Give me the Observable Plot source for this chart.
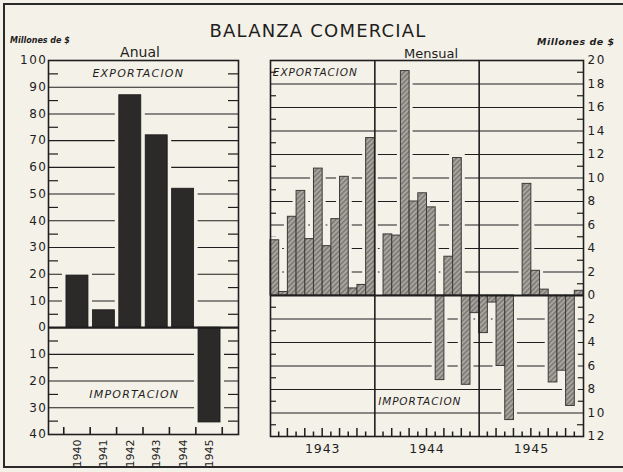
<!DOCTYPE html>
<html><head><meta charset="utf-8">
<script src="https://cdn.jsdelivr.net/npm/d3@7"></script>
<script src="https://cdn.jsdelivr.net/npm/@observablehq/plot@0.6"></script>
<style>
html,body{margin:0;padding:0;background:#f4f1e8;}
#chart{position:relative;width:623px;height:472px;overflow:hidden;font-family:"DejaVu Sans",sans-serif;}
#chart svg{position:absolute;left:0;top:0;}
#border{position:absolute;left:3px;top:3px;width:700px;height:461px;border:2px solid #2a2a2a;}
</style></head><body><div id="chart"><div id="border"></div></div>
<script>
// ---- Data ----
const anualYears = ["1940", "1941", "1942", "1943", "1944", "1945"];
const anualValues = [19.5, 6.5, 87, 72, 52, -35.5];
const anualTicks = [-40, -30, -20, -10, 0, 10, 20, 30, 40, 50, 60, 70, 80, 90, 100];
const anualGrid = [-30, -20, -10, 10, 20, 30, 40, 50, 60, 70, 80, 90];
const anualMinor = [-35, -25, -15, -5, 5, 15, 25, 35, 45, 55, 65, 75, 85, 95];

const mensualYears = ["1943", "1944", "1945"];
const mensual1943 = [4.7, 0.3, 6.7, 8.9, 4.8, 10.8, 4.2, 6.5, 10.1, 0.6, 0.9, 13.4];
const mensual1944 = [0, 5.2, 5.1, 19.1, 8.0, 8.7, 7.5, -7.2, 3.3, 11.7, -7.6, -1.5];
const mensual1945 = [-3.2, -0.6, -6.0, -10.6, 0, 9.5, 2.1, 0.5, -7.4, -6.4, -9.4, 0.4];
const mensualTicks = [-12, -10, -8, -6, -4, -2, 0, 2, 4, 6, 8, 10, 12, 14, 16, 18, 20];
const mensualGrid = [-10, -8, -6, -4, -2, 2, 4, 6, 8, 10, 12, 14, 16, 18];
const mensualMinor = [-11, -9, -7, -5, -3, -1, 1, 3, 5, 7, 9, 11, 13, 15, 17, 19];

const titulo = "BALANZA COMERCIAL";
const unidad = "Millones de $";

// ---- Build ----
const W = 623, H = 472;
const bg = "#f4f1e8", ink = "#1e1e1e";
const font = "DejaVu Sans";

const anual = anualYears.map((year, i) => ({year, value: anualValues[i]}));
const piA = 0.167, poA = 0.68;
const innerA = W - 48 - 385;
const innerAH = H - 60 - 38;
const stepA = innerA / (anualYears.length - piA + 2 * poA);
const bwA = stepA * (1 - piA);
const pxA = innerAH / 140;

const left = Plot.plot({
  width: W, height: H,
  marginLeft: 48, marginRight: 385, marginTop: 60, marginBottom: 38,
  style: {background: "transparent", fontFamily: font, color: ink, overflow: "visible"},
  x: {type: "band", domain: anualYears, paddingInner: piA, paddingOuter: poA, round: false},
  y: {domain: [-40, 100]},
  marks: [
    Plot.ruleY(anualGrid, {stroke: ink, strokeWidth: 1.1}),
    Plot.ruleY(anualMinor, {stroke: ink, strokeWidth: 1.2, insetRight: innerA - 10}),
    Plot.ruleY(anualMinor, {stroke: ink, strokeWidth: 1.2, insetLeft: innerA - 10}),
    Plot.barY(anual, {x: "year", y: "value", fill: bg, stroke: bg, strokeWidth: 8}),
    Plot.barY(anual, {x: "year", y: "value", fill: "#2b2a29", stroke: "#1a1a1a", strokeWidth: 0.8}),
    // bottom ticks between categories
    Plot.barY(anualYears, {x: d => d, y1: -40, y2: -40 + 7 / pxA, insetRight: bwA - 1.6, dx: -(stepA - bwA) / 2 - 0.8, fill: ink}),
    Plot.barY(anualYears.slice(-1), {x: d => d, y1: -40, y2: -40 + 7 / pxA, insetLeft: bwA - 1.6, dx: (stepA - bwA) / 2 + 0.8, fill: ink}),
    Plot.ruleY([0], {stroke: ink, strokeWidth: 2.2}),
    Plot.frame({stroke: ink, strokeWidth: 1.6}),
    Plot.axisY({anchor: "left", ticks: anualTicks, tickFormat: d => Math.abs(d), tickSize: 0, tickPadding: 1, fontSize: 12, label: null}),
    Plot.axisX({anchor: "bottom", tickRotate: -90, tickSize: 0, tickPadding: 5, fontSize: 11, label: null}),
    Plot.text(["EXPORTACION"], {x: () => "1942", y: () => 95, text: d => d, dx: 8, fontSize: 11, fontStyle: "italic", fill: ink}),
    Plot.text(["IMPORTACION"], {x: () => "1942", y: () => -25, text: d => d, dx: 4, fontSize: 11, fontStyle: "italic", fill: ink})
  ]
});

const mensual = [];
[mensual1943, mensual1944, mensual1945].forEach((arr, j) => arr.forEach((v, i) =>
  mensual.push({key: `${mensualYears[j]}-${String(i + 1).padStart(2, "0")}`, year: mensualYears[j], month: i + 1, value: v})));
const keys = mensual.map(d => d.key);
const innerM = W - 270 - 40;
const innerMH = H - 60 - 36;
const stepM = innerM / keys.length;
const pxM = innerMH / 32;
const tallTicks = mensual.filter(d => d.month > 1 && d.month % 2 === 1).map(d => d.key);
const shortTicks = mensual.filter(d => d.month % 2 === 0).map(d => d.key);

const right = Plot.plot({
  width: W, height: H,
  marginLeft: 270, marginRight: 40, marginTop: 60, marginBottom: 36,
  style: {background: "transparent", fontFamily: font, color: ink, overflow: "visible"},
  x: {type: "band", domain: keys, padding: 0, round: false, axis: null},
  y: {domain: [-12, 20]},
  marks: [
    Plot.ruleY(mensualGrid, {stroke: ink, strokeWidth: 1.1}),
    Plot.ruleY(mensualMinor, {stroke: ink, strokeWidth: 1.2, insetRight: innerM - 6}),
    Plot.ruleY(mensualMinor, {stroke: ink, strokeWidth: 1.2, insetLeft: innerM - 6}),
    Plot.barY(mensual.filter(d => d.value !== 0), {x: "key", y: "value", fill: bg, stroke: bg, strokeWidth: 7}),
    Plot.barY(mensual, {x: "key", y: "value", fill: "url(#hatch)", stroke: "#3a3937", strokeWidth: 1}),
    // month ticks along the bottom
    Plot.barY(tallTicks, {x: d => d, y1: -12, y2: -12 + 8 / pxM, insetRight: stepM - 1.5, dx: -0.75, fill: ink}),
    Plot.barY(shortTicks, {x: d => d, y1: -12, y2: -12 + 4.5 / pxM, insetRight: stepM - 1.5, dx: -0.75, fill: ink}),
    Plot.ruleX(["1944-01", "1945-01"], {x: d => d, dx: -stepM / 2, stroke: ink, strokeWidth: 1.6}),
    Plot.ruleY([0], {stroke: ink, strokeWidth: 2.2}),
    Plot.frame({stroke: ink, strokeWidth: 1.6}),
    Plot.axisY({anchor: "right", ticks: mensualTicks, tickFormat: d => Math.abs(d), tickSize: 0, tickPadding: 4, fontSize: 12, label: null}),
    Plot.text(mensualYears, {x: d => d + "-07", dx: -stepM / 2, frameAnchor: "bottom", dy: 16, text: d => d, fontSize: 12.5, fill: ink}),
    Plot.text(["EXPORTACION"], {x: () => "1943-01", y: () => 19, text: d => d, dx: -2, textAnchor: "start", fontSize: 10.5, fontStyle: "italic", fill: ink}),
    Plot.text(["IMPORTACION"], {x: () => "1944-01", y: () => -9, text: d => d, dx: -1, textAnchor: "start", fontSize: 10.5, fontStyle: "italic", fill: ink})
  ]
});

// hatch pattern
const defs = d3.select(right).insert("defs", ":first-child");
const pat = defs.append("pattern").attr("id", "hatch").attr("patternUnits", "userSpaceOnUse")
  .attr("width", 3.5).attr("height", 3.5).attr("patternTransform", "rotate(45)");
pat.append("rect").attr("width", 3.5).attr("height", 3.5).attr("fill", "#a9a6a0");
pat.append("line").attr("x1", 0.8).attr("y1", 0).attr("x2", 0.8).attr("y2", 3.5).attr("stroke", "#6e6b66").attr("stroke-width", 1.2);

// letter spacing on axis labels
[left, right].forEach(s => d3.select(s).selectAll("g[aria-label='y-axis tick label'] text").attr("letter-spacing", "1.5"));
d3.select(left).selectAll("g[aria-label='text'] text").attr("letter-spacing", "1.2");
d3.select(right).selectAll("g[aria-label='text'] text").attr("letter-spacing", "0.9");

// titles
const L = d3.select(left);
L.append("text").attr("x", 318).attr("y", 37).attr("text-anchor", "middle").attr("font-size", 18)
  .attr("letter-spacing", 1.2).attr("fill", ink).text(titulo);
L.append("text").attr("x", 10).attr("y", 43).attr("text-anchor", "start").attr("font-size", 8).attr("font-style", "italic").attr("font-weight", "bold")
  .attr("fill", ink).text(unidad);
L.append("text").attr("x", 537).attr("y", 45).attr("text-anchor", "start").attr("font-size", 9.5).attr("letter-spacing", 0.5)
  .attr("font-style", "italic").attr("font-weight", "bold").attr("fill", ink).text(unidad);
L.append("text").attr("x", 140).attr("y", 57).attr("text-anchor", "middle").attr("font-size", 14).attr("fill", ink).text("Anual");
L.append("text").attr("x", 431).attr("y", 58).attr("text-anchor", "middle").attr("font-size", 13).attr("fill", ink).text("Mensual");

const chart = document.getElementById("chart");
chart.appendChild(left);
chart.appendChild(right);
</script></body></html>
